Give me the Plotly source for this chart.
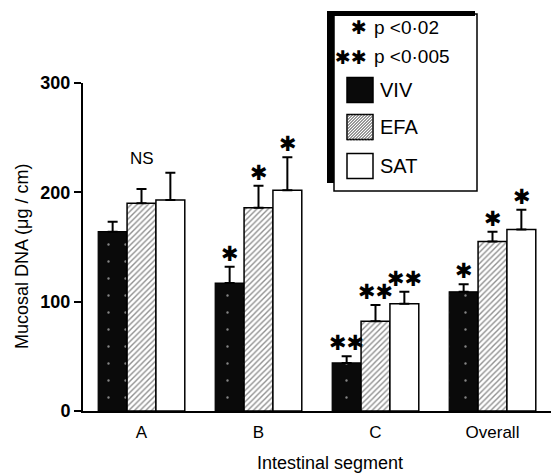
import plotly.graph_objects as go

# ---- data ----
segments = ["A", "B", "C", "Overall"]
viv = [164, 117, 44, 109]
efa = [190, 186, 82, 155]
sat = [193, 202, 98, 166]
viv_err = [9, 15, 6, 7]
efa_err = [13, 20, 15, 9]
sat_err = [25, 30, 11, 18]
viv_sig = ["", "✱", "✱✱", "✱"]
efa_sig = ["", "✱", "✱✱", "✱"]
sat_sig = ["", "✱", "✱✱", "✱"]
y_ticks = [0, 100, 200, 300]

W, H = 551, 474
ML, MR, MT, MB = 83, 0, 83, 63
PW, PH = W - ML - MR, H - MT - MB

def px(x):
    return (x - ML) / PW

def py(y):
    return (H - MB - y) / PH

FONT = "Liberation Sans, Arial, Helvetica, sans-serif"

def err(vals):
    return dict(type="data", array=vals, arrayminus=[0] * len(vals), symmetric=False,
                color="black", thickness=2, width=5)

fig = go.Figure()
fig.add_bar(x=segments, y=viv, name="VIV", error_y=err(viv_err),
            marker=dict(color="#0a0a0a", line=dict(color="black", width=1.2),
                        pattern=dict(shape=".", fgcolor="#ffffff", bgcolor="#0a0a0a",
                                     size=17, solidity=0.015)))
fig.add_bar(x=segments, y=efa, name="EFA", error_y=err(efa_err),
            marker=dict(color="white", line=dict(color="black", width=1.5),
                        pattern=dict(shape="/", fgcolor="#222", bgcolor="white",
                                     size=4, solidity=0.35)))
fig.add_bar(x=segments, y=sat, name="SAT", error_y=err(sat_err),
            marker=dict(color="white", line=dict(color="black", width=1.5)))

annotations = []
offs = [-29, 0, 29]
for vals, errs, sigs, off in [(viv, viv_err, viv_sig, offs[0]),
                              (efa, efa_err, efa_sig, offs[1]),
                              (sat, sat_err, sat_sig, offs[2])]:
    for seg, v, e, s in zip(segments, vals, errs, sigs):
        if s:
            annotations.append(dict(x=seg, y=v + e, xref="x", yref="y", text=s,
                                    showarrow=False, xshift=off, yshift=13,
                                    yanchor="middle", xanchor="center",
                                    font=dict(family="DejaVu Sans", size=21, color="black")))
annotations.append(dict(x="A", y=231, xref="x", yref="y", text="NS", showarrow=False,
                        xanchor="center", yanchor="middle",
                        font=dict(family=FONT, size=17, color="black")))

# axis titles
annotations.append(dict(x=px(22), y=py(257), xref="paper", yref="paper",
                        xanchor="center", yanchor="middle",
                        text="Mucosal DNA (μg / cm)", textangle=-90, showarrow=False,
                        font=dict(family=FONT, size=18, color="black")))
annotations.append(dict(x=px(330), y=py(463), xref="paper", yref="paper",
                        xanchor="center", yanchor="middle",
                        text="Intestinal segment", showarrow=False,
                        font=dict(family=FONT, size=18, color="black")))

# ---- legend box (drawn) ----
shapes = []
shapes.append(dict(type="rect", xref="paper", yref="paper", x0=px(334), x1=px(477),
                   y0=py(191), y1=py(14), line=dict(color="black", width=1.5),
                   fillcolor="white", layer="above"))
shapes.append(dict(type="rect", xref="paper", yref="paper", x0=px(328), x1=px(475),
                   y0=py(16), y1=py(11), line=dict(width=0), fillcolor="black", layer="above"))
shapes.append(dict(type="rect", xref="paper", yref="paper", x0=px(327), x1=px(334),
                   y0=py(183), y1=py(11), line=dict(width=0), fillcolor="black", layer="above"))

def swatch(cy, fill):
    x0, x1, y0, y1 = 347, 373, cy - 12.5, cy + 12.5
    shapes.append(dict(type="rect", xref="paper", yref="paper", x0=px(x0), x1=px(x1),
                       y0=py(y1), y1=py(y0), line=dict(color="black", width=1.5),
                       fillcolor=fill, layer="above"))
    return x0, x1, y0, y1

swatch(90, "#0a0a0a")
x0, x1, y0, y1 = swatch(127, "white")
s = x1 - x0
step = 3
d = step
while d < 2 * s:
    ax = max(0, d - s)
    bx = min(d, s)
    shapes.append(dict(type="line", xref="paper", yref="paper",
                       x0=px(x0 + ax), y0=py(y0 + (d - ax)),
                       x1=px(x0 + bx), y1=py(y0 + (d - bx)),
                       line=dict(color="#333", width=1), layer="above"))
    d += step
swatch(166, "white")

leg_font = dict(family=FONT, size=19, color="black")
for cy, stars, txt in [(27, "✱", "p <0·02"), (57, "✱✱", "p <0·005")]:
    annotations.append(dict(x=px(369), y=py(cy), xref="paper", yref="paper", text=stars,
                            xanchor="right", yanchor="middle", showarrow=False,
                            font=dict(family="DejaVu Sans", size=19, color="black")))
    annotations.append(dict(x=px(372), y=py(cy), xref="paper", yref="paper", text=txt,
                            xanchor="left", yanchor="middle", showarrow=False, font=leg_font))
for cy, txt in [(90, "VIV"), (127, "EFA"), (166, "SAT")]:
    annotations.append(dict(x=px(378), y=py(cy), xref="paper", yref="paper", text=txt,
                            xanchor="left", yanchor="middle", showarrow=False,
                            font=dict(family=FONT, size=20, color="black")))

fig.update_layout(
    width=W, height=H, margin=dict(l=ML, r=MR, t=MT, b=MB),
    paper_bgcolor="white", plot_bgcolor="white",
    barmode="group", bargap=0.26, bargroupgap=0,
    showlegend=False, annotations=annotations, shapes=shapes,
    font=dict(family=FONT, color="black"),
)
fig.update_xaxes(range=[-0.5, 3.5], showline=True, linecolor="black", linewidth=2,
                 ticks="", showgrid=False, zeroline=False,
                 tickfont=dict(family=FONT, size=17, color="black"), ticklabelstandoff=5)
fig.update_yaxes(range=[0, 300], tickvals=y_ticks, showline=True, linecolor="black",
                 linewidth=2, ticks="outside", ticklen=7, tickwidth=2, tickcolor="black",
                 showgrid=False, zeroline=False,
                 tickfont=dict(family="Liberation Sans", size=18, color="black", weight="bold"))

fig.write_html("out.html", config={"displayModeBar": False},
               post_script="document.body.style.margin='0';document.body.style.overflow='hidden';")
